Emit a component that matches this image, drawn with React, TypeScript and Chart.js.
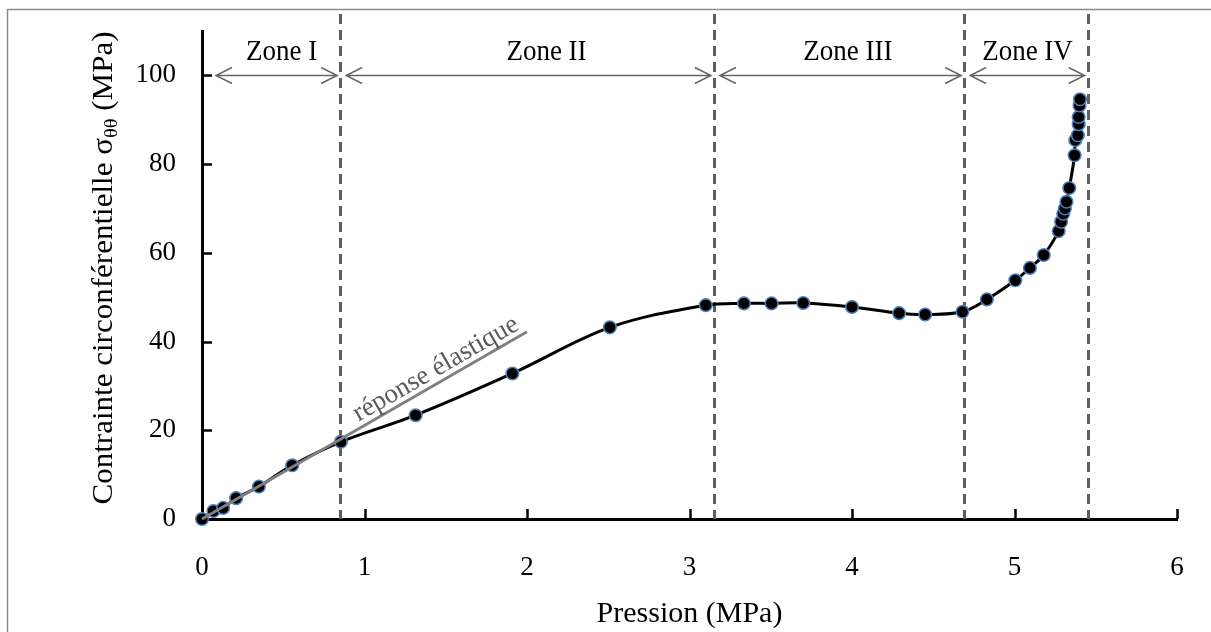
import React, { useEffect, useRef } from "react";
import { Chart, registerables } from "chart.js";

Chart.register(...registerables);

// ---- data ----
const pression = [
  0, 0.07, 0.13, 0.21, 0.35, 0.555, 0.855, 1.315, 1.91, 2.51, 3.1, 3.335, 3.505,
  3.7, 4.0, 4.29, 4.45, 4.68, 4.83, 5.005, 5.095, 5.18, 5.272, 5.287, 5.3, 5.31,
  5.32, 5.337, 5.37, 5.374, 5.39, 5.395, 5.395, 5.4, 5.403,
];
const contrainte = [
  0, 1.8, 2.5, 4.7, 7.3, 12.1, 17.4, 23.4, 32.8, 43.2, 48.2, 48.6, 48.6, 48.7,
  47.8, 46.4, 46.1, 46.7, 49.5, 53.8, 56.6, 59.5, 64.9, 67.0, 68.8, 70.0, 71.5,
  74.6, 82.0, 85.4, 86.5, 89.0, 90.6, 93.2, 94.6,
];
const elasticX = [0, 2.0];
const elasticY = [0, 42.2];
const zoneBounds = [0, 0.85, 3.15, 4.69, 5.45];
const zoneLabels = ["Zone I", "Zone II", "Zone III", "Zone IV"];
const zoneLabelX = [0.49, 2.12, 3.975, 5.08];
const arrowLevel = 100;
const xTicks = [0, 1, 2, 3, 4, 5, 6];
const yTicks = [0, 20, 40, 60, 80, 100];
const xTitle = "Pression (MPa)";
const yTitleParts = ["Contrainte circonférentielle σ", "θθ", " (MPa)"];
const elasticLabel = "réponse élastique";

const FONT = "'Liberation Serif', 'Times New Roman', serif";

const decorPlugin = {
  id: "decor",
  beforeDraw(chart: any) {
    const ctx = chart.ctx;
    ctx.save();
    ctx.strokeStyle = "#8c8c8c";
    ctx.lineWidth = 1.5;
    ctx.strokeRect(7.5, 9.5, 1400, 800);
    ctx.restore();
  },
  beforeDatasetsDraw(chart: any) {
    const ctx = chart.ctx;
    const xs = chart.scales.x;
    const ys = chart.scales.y;
    ctx.save();
    ctx.setLineDash([10, 6]);
    ctx.lineWidth = 3;
    ctx.strokeStyle = "#5f5f5f";
    for (let i = 1; i < zoneBounds.length; i++) {
      const px = Math.round(xs.getPixelForValue(zoneBounds[i])) + 0.5;
      ctx.beginPath();
      ctx.moveTo(px, 14);
      ctx.lineTo(px, ys.getPixelForValue(0));
      ctx.stroke();
    }
    ctx.restore();
  },
  afterDraw(chart: any) {
    const ctx = chart.ctx;
    const xs = chart.scales.x;
    const ys = chart.scales.y;
    const area = chart.chartArea;
    ctx.save();
    // inner ticks
    ctx.strokeStyle = "#000";
    ctx.lineWidth = 2.5;
    for (const v of yTicks) {
      if (v === 0) continue;
      const py = Math.round(ys.getPixelForValue(v)) + 0.5;
      ctx.beginPath();
      ctx.moveTo(area.left, py);
      ctx.lineTo(area.left + 10, py);
      ctx.stroke();
    }
    for (const v of xTicks) {
      if (v === 0) continue;
      const px = Math.round(xs.getPixelForValue(v)) + 0.5;
      ctx.beginPath();
      ctx.moveTo(px, area.bottom);
      ctx.lineTo(px, area.bottom - 10);
      ctx.stroke();
    }
    // arrows
    const ay = Math.round(ys.getPixelForValue(arrowLevel)) + 0.5;
    ctx.strokeStyle = "#666";
    ctx.lineWidth = 1.5;
    for (let i = 0; i < zoneBounds.length - 1; i++) {
      const x0 = xs.getPixelForValue(zoneBounds[i]) + (i === 0 ? 14 : 6);
      const x1 = xs.getPixelForValue(zoneBounds[i + 1]) - 3;
      ctx.beginPath();
      ctx.moveTo(x0, ay);
      ctx.lineTo(x1, ay);
      ctx.moveTo(x0 + 16, ay - 8);
      ctx.lineTo(x0, ay);
      ctx.lineTo(x0 + 16, ay + 8);
      ctx.moveTo(x1 - 16, ay - 8);
      ctx.lineTo(x1, ay);
      ctx.lineTo(x1 - 16, ay + 8);
      ctx.stroke();
    }
    // zone labels
    ctx.fillStyle = "#000";
    ctx.font = `27px ${FONT}`;
    ctx.textAlign = "center";
    ctx.textBaseline = "middle";
    for (let i = 0; i < zoneLabels.length; i++) {
      ctx.save();
      ctx.translate(xs.getPixelForValue(zoneLabelX[i]), 52);
      ctx.scale(1, 1.1);
      ctx.fillText(zoneLabels[i], 0, 0);
      ctx.restore();
    }
    // elastic label
    const p0x = xs.getPixelForValue(elasticX[0]);
    const p0y = ys.getPixelForValue(elasticY[0]);
    const p1x = xs.getPixelForValue(elasticX[1]);
    const p1y = ys.getPixelForValue(elasticY[1]);
    const ang = Math.atan2(p1y - p0y, p1x - p0x);
    const t = 0.74;
    ctx.save();
    ctx.translate(p0x + (p1x - p0x) * t, p0y + (p1y - p0y) * t);
    ctx.rotate(ang);
    ctx.fillStyle = "#5a5a5a";
    ctx.textBaseline = "alphabetic";
    ctx.fillText(elasticLabel, 0, -6);
    ctx.restore();
    // y title
    const big = `29px ${FONT}`;
    const small = `19px ${FONT}`;
    ctx.font = big;
    const w0 = ctx.measureText(yTitleParts[0]).width;
    const w2 = ctx.measureText(yTitleParts[2]).width;
    ctx.font = small;
    const w1 = ctx.measureText(yTitleParts[1]).width;
    const total = w0 + w1 + w2;
    ctx.save();
    ctx.translate(112, 268);
    ctx.rotate(-Math.PI / 2);
    ctx.scale(1.07, 1);
    ctx.textAlign = "left";
    ctx.textBaseline = "alphabetic";
    ctx.fillStyle = "#000";
    let cx = -total / 2;
    ctx.font = big;
    ctx.fillText(yTitleParts[0], cx, 0);
    cx += w0;
    ctx.font = small;
    ctx.fillText(yTitleParts[1], cx, 5);
    cx += w1;
    ctx.font = big;
    ctx.fillText(yTitleParts[2], cx, 0);
    ctx.restore();
    ctx.restore();
  },
};

export default function App() {
  const canvasRef = useRef<HTMLCanvasElement | null>(null);

  useEffect(() => {
    if (!canvasRef.current) return;
    const mainData = pression.map((p, i) => ({ x: p, y: contrainte[i] }));
    const elasticData = elasticX.map((p, i) => ({ x: p, y: elasticY[i] }));
    const chart = new Chart(canvasRef.current, {
      type: "line",
      data: {
        datasets: [
          {
            data: elasticData,
            borderColor: "#808080",
            borderWidth: 3,
            pointRadius: 0,
            tension: 0,
            clip: false,
          },
          {
            data: mainData,
            borderColor: "#000",
            borderWidth: 3,
            pointRadius: 6.3,
            pointBorderWidth: 1.5,
            pointBackgroundColor: "#000",
            pointBorderColor: "#4f81bd",
            tension: 0.35,
            clip: false,
          },
        ],
      },
      options: {
        responsive: false,
        animation: false,
        devicePixelRatio: 1,
        layout: { padding: { left: 0, top: 31, right: 34, bottom: 0 } },
        plugins: { legend: { display: false }, tooltip: { enabled: false } },
        scales: {
          x: {
            type: "linear",
            min: 0,
            max: 6,
            afterFit: (s: any) => {
              s.height = 113;
              s.paddingLeft = 0;
              s.paddingRight = 0;
            },
            afterBuildTicks: (s: any) => {
              s.ticks = xTicks.map((v) => ({ value: v }));
            },
            grid: { display: false, drawTicks: false },
            border: { display: true, color: "#000", width: 3 },
            ticks: {
              padding: 33,
              color: "#000",
              font: { family: FONT, size: 27 },
              maxRotation: 0,
            },
            title: {
              display: true,
              text: xTitle,
              color: "#000",
              font: { family: FONT, size: 30 },
              padding: { top: 0, bottom: 0 },
            },
          },
          y: {
            type: "linear",
            min: 0,
            max: 110,
            afterFit: (s: any) => {
              s.width = 202;
              s.paddingTop = 0;
              s.paddingBottom = 0;
            },
            afterBuildTicks: (s: any) => {
              s.ticks = yTicks.map((v) => ({ value: v }));
            },
            grid: { display: false, drawTicks: false },
            border: { display: true, color: "#000", width: 3 },
            ticks: {
              padding: 26,
              color: "#000",
              font: { family: FONT, size: 27 },
            },
          },
        },
      },
      plugins: [decorPlugin],
    });
    return () => chart.destroy();
  }, []);

  return (
    <div style={{ position: "fixed", left: 0, top: 0, width: 1211, height: 632 }}>
      <canvas ref={canvasRef} width={1211} height={632} />
    </div>
  );
}
